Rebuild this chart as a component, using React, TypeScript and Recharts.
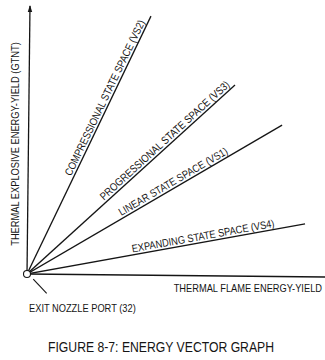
import { LineChart, Line, XAxis, YAxis, ReferenceLine, ReferenceDot, LabelList } from 'recharts'

// energy vectors (arbitrary units 0-100 / 0-90)
const vectorNames = [
  'COMPRESSIONAL STATE SPACE (VS2)',
  'PROGRESSIONAL STATE SPACE (VS3)',
  'LINEAR STATE SPACE (VS1)',
  'EXPANDING STATE SPACE (VS4)',
]
const flameYield = [41.6, 69.8, 85.6, 93.3]
const explosiveYield = [86.6, 63.5, 50.0, 16.8]

// axis ends
const yAxisEnd = { x: 1, y: 90 }
const xAxisEnd = { x: 100, y: -1 }
const nozzleLeader = [{ x: 2.1, y: -1.7 }, { x: 6.6, y: -6.5 }]

const W = 325
const H = 360
const MARGIN = { top: 6, right: 0, left: 27, bottom: 86 }
const FONT = "'Liberation Sans', Arial, Helvetica, sans-serif"
const INK = '#151515'
const SQUEEZE = 0.86 // the scan's lettering is narrower than Arial
// where along each vector its label is centred (fraction of length)
const labelAt = [0.673, 0.682, 0.585, 0.637]

const vectors = vectorNames.map((name, i) => ({
  name,
  data: [{ x: 0, y: 0 }, { x: flameYield[i], y: explosiveYield[i] }],
}))

// text drawn at (x, y) with an optional rotation, squeezed horizontally
function Caption({ x, y, rotate = 0, anchor = 'start', size = 10.8, children }: any) {
  return (
    <text
      transform={`translate(${x},${y}) rotate(${rotate}) scale(${SQUEEZE},1)`}
      textAnchor={anchor}
      fontSize={size}
      fontFamily={FONT}
      fill={INK}
    >
      {children}
    </text>
  )
}

function vectorLabel(name: string, t: number) {
  return (props: any) => {
    if (props.index !== 1) return null
    const x0 = MARGIN.left
    const y0 = H - MARGIN.bottom
    const dx = props.x - x0
    const dy = props.y - y0
    const ang = Math.atan2(dy, dx)
    // lift the baseline a little off the vector, on its upper side
    const off = 2.5
    const cx = x0 + dx * t + off * Math.sin(ang)
    const cy = y0 + dy * t - off * Math.cos(ang)
    return (
      <Caption x={cx} y={cy} rotate={(ang * 180) / Math.PI} anchor="middle">
        {name}
      </Caption>
    )
  }
}

const ArrowHead = (props: any) => {
  const { cx, cy } = props
  return <polygon points={`${cx},${cy - 1} ${cx - 2.2},${cy + 6} ${cx + 2.2},${cy + 6}`} fill={INK} />
}

export default function App() {
  return (
    <div style={{ position: 'absolute', left: 0, top: 0, width: W, height: H, background: '#fff' }}>
      <LineChart width={W} height={H} margin={MARGIN}>
        <XAxis type="number" dataKey="x" domain={[0, 100]} hide allowDataOverflow />
        <YAxis type="number" dataKey="y" domain={[0, 90]} hide allowDataOverflow />

        <ReferenceLine
          segment={[{ x: 0, y: 0 }, xAxisEnd]}
          stroke={INK}
          strokeWidth={1.3}
          ifOverflow="visible"
        />
        <ReferenceLine
          segment={[{ x: 0, y: 0 }, yAxisEnd]}
          stroke={INK}
          strokeWidth={1.3}
          ifOverflow="visible"
        />
        <ReferenceDot x={yAxisEnd.x} y={yAxisEnd.y} ifOverflow="visible" shape={ArrowHead} />
        <ReferenceLine segment={nozzleLeader} stroke={INK} strokeWidth={1.1} ifOverflow="visible" />

        {vectors.map((v, i) => (
          <Line
            key={v.name}
            data={v.data}
            dataKey="y"
            type="linear"
            stroke={INK}
            strokeWidth={1.3}
            dot={false}
            activeDot={false}
            isAnimationActive={false}
          >
            <LabelList dataKey="y" content={vectorLabel(v.name, labelAt[i])} />
          </Line>
        ))}

        <ReferenceDot x={0} y={0} r={3.5} fill="#fff" stroke={INK} strokeWidth={1.1} ifOverflow="visible" />

        <Caption x={19} y={144} rotate={-90} anchor="middle">
          THERMAL EXPLOSIVE ENERGY-YIELD (GTNT)
        </Caption>
        <Caption x={322} y={292} anchor="end">
          THERMAL FLAME ENERGY-YIELD
        </Caption>
        <Caption x={29} y={311.5}>
          EXIT NOZZLE PORT (32)
        </Caption>
        <Caption x={161} y={352} anchor="middle" size={14.2}>
          FIGURE 8-7: ENERGY VECTOR GRAPH
        </Caption>
      </LineChart>
    </div>
  )
}
